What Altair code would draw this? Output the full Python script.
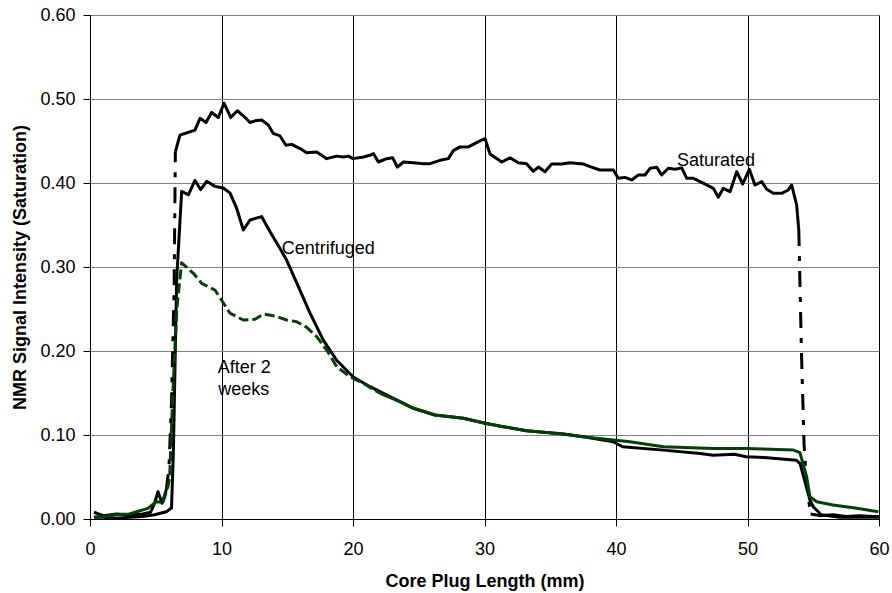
import altair as alt
import pandas as pd

# ---- data ----
sat_x = [0.3, 1.0, 2.0, 3.0, 4.0, 4.6, 4.91, 5.17, 5.48, 5.8, 6.0, 6.2, 6.4, 6.49, 6.84, 7.98, 8.37, 8.82, 9.25, 9.76,
         10.19, 10.70, 11.2, 11.66, 12.17, 12.55, 13.05, 13.56, 13.94, 14.45, 14.9, 15.34, 15.97, 16.48, 17.24, 18.0,
         18.76, 19.26, 19.65, 20.0, 20.8, 21.29, 21.55, 21.93, 22.56, 23.02, 23.37, 23.83, 24.59, 25.35, 25.86, 26.62,
         27.25, 27.63, 28.14, 28.77, 29.4, 30.04, 30.42, 31.31, 31.94, 32.57, 33.2, 33.71, 34.1, 34.6, 35.11, 35.87,
         36.5, 37.51, 38.14, 38.78, 39.8, 40.17, 40.68, 41.19, 41.7, 42.2, 42.59, 43.1, 43.47, 43.98, 44.49, 45.0,
         45.38, 45.88, 46.4, 47.15, 47.4, 47.78, 48.16, 48.67, 49.18, 49.63, 50.14, 50.57, 51.08, 51.46, 51.96, 52.6,
         53.1, 53.36, 53.74, 53.9, 54.1, 54.3, 54.5, 54.8, 55.5, 56.5, 57.5, 58.5, 59.5, 60.0]
sat_y = [0.008, 0.004, 0.006, 0.005, 0.006, 0.008, 0.0187, 0.0325, 0.0187, 0.0345, 0.06, 0.14, 0.28, 0.437, 0.457,
         0.463, 0.477, 0.472, 0.484, 0.478, 0.495, 0.478, 0.486, 0.480, 0.472, 0.474, 0.475, 0.469, 0.459, 0.456,
         0.445, 0.446, 0.441, 0.436, 0.437, 0.429, 0.432, 0.431, 0.432, 0.429, 0.431, 0.433, 0.435, 0.425, 0.429,
         0.430, 0.419, 0.425, 0.424, 0.423, 0.423, 0.427, 0.429, 0.4385, 0.443, 0.443, 0.448, 0.453, 0.4345, 0.425,
         0.430, 0.424, 0.423, 0.414, 0.419, 0.4135, 0.4226, 0.4226, 0.424, 0.4226, 0.419, 0.4155, 0.4155, 0.4056,
         0.4067, 0.4036, 0.4095, 0.4095, 0.4175, 0.4187, 0.4095, 0.4175, 0.4163, 0.418, 0.4056, 0.4056, 0.4016,
         0.3956, 0.3937, 0.383, 0.3937, 0.3897, 0.4135, 0.3988, 0.4163, 0.3976, 0.4016, 0.3925, 0.3877, 0.3877,
         0.3917, 0.3976, 0.3738, 0.344, 0.2, 0.09, 0.04, 0.006, 0.004, 0.005, 0.003, 0.004, 0.003, 0.003]

cen_x = [0.3, 1.0, 2.0, 3.0, 4.0, 4.9, 5.8, 6.2, 6.34, 6.59, 6.97, 7.48, 7.98, 8.42, 8.87, 9.5, 10.14, 10.65, 11.15,
         11.66, 12.17, 13.05, 13.69, 14.45, 14.96, 15.72, 16.73, 17.74, 18.76, 20.02, 21.3, 22.05, 23.57, 24.59,
         26.24, 28.39, 30.04, 31.43, 33.2, 36.0, 37.77, 39.8, 40.5, 43.6, 46.4, 47.4, 49.0, 49.9, 51.5, 53.7, 54.0,
         54.75, 55.0, 55.6, 57.0, 58.5, 60.0]
cen_y = [0.002, 0.002, 0.001, 0.002, 0.003, 0.005, 0.0087, 0.013, 0.08, 0.285, 0.39, 0.386, 0.403, 0.392, 0.402,
         0.396, 0.394, 0.388, 0.370, 0.344, 0.356, 0.360, 0.342, 0.322, 0.308, 0.281, 0.245, 0.213, 0.189, 0.169,
         0.1575, 0.1516, 0.1397, 0.1318, 0.1238, 0.1199, 0.1139, 0.1099, 0.1051, 0.1012, 0.0972, 0.092, 0.086,
         0.082, 0.078, 0.076, 0.077, 0.074, 0.073, 0.070, 0.066, 0.0226, 0.0146, 0.005, 0.002, 0.002, 0.002]

wk_x = [0.3, 1.0, 2.0, 3.0, 4.4, 5.04, 5.55, 5.93, 6.06, 6.3, 6.6, 6.97, 7.86, 8.49, 9.5, 10.0, 10.65, 11.66, 12.55,
        13.18, 14.07, 14.96, 15.72, 16.48, 17.24, 18.0, 18.76, 19.77, 20.78, 22.05, 23.57, 24.59, 26.24, 28.39,
        30.04, 31.43, 33.2, 36.0, 37.77, 39.8, 41.06, 43.6, 47.4, 49.9, 53.5, 53.99, 54.5, 54.75, 55.26, 56.5, 58.3,
        59.95]
wk_y = [0.002, 0.003, 0.005, 0.006, 0.0127, 0.0206, 0.020, 0.0385, 0.05, 0.15, 0.25, 0.305, 0.2925, 0.2806, 0.2726,
        0.2607, 0.2449, 0.2369, 0.2377, 0.244, 0.2417, 0.2369, 0.2349, 0.2282, 0.217, 0.2012, 0.1813, 0.1694,
        0.1615, 0.1496, 0.1397, 0.1318, 0.1238, 0.1199, 0.1139, 0.1099, 0.1051, 0.1012, 0.0972, 0.094, 0.092,
        0.086, 0.084, 0.084, 0.082, 0.079, 0.05, 0.0266, 0.0206, 0.0167, 0.0127, 0.0087]

# line-style breaks (mm) where the drawn style switches between solid and dashed
sat_breaks = [5.8, 6.49, 53.9, 54.8]
wk_breaks = [5.55, 22.05]

label_text = ["Saturated", "Centrifuged", "After 2", "weeks"]
label_x = [44.64, 14.58, 9.71, 9.76]
label_y = [0.4202, 0.3151, 0.1734, 0.1476]

x_ticks = [0, 10, 20, 30, 40, 50, 60]
y_ticks = [0.0, 0.1, 0.2, 0.3, 0.4, 0.5, 0.6]

FONT = "Liberation Sans"


def split(xs, ys, breaks):
    """Split a series into consecutive pieces; odd pieces are dashed."""
    edges = [-1e9] + breaks + [1e9]
    solid, dashed = [], []
    for i in range(len(edges) - 1):
        lo, hi = edges[i], edges[i + 1]
        for x, y in zip(xs, ys):
            if lo <= x <= hi:
                (dashed if i % 2 else solid).append({"x": x, "y": y, "seg": i})
    return pd.DataFrame(solid), pd.DataFrame(dashed)


xs = alt.Scale(domain=[0, 60], nice=False, zero=False)
ys = alt.Scale(domain=[0, 0.6], nice=False)

xax = alt.Axis(values=x_ticks, title="Core Plug Length (mm)", grid=True, gridColor="#000000", gridWidth=1,
               domainColor="#000000", tickColor="#000000", tickSize=7, labelPadding=14, labelFontSize=18,
               labelFont=FONT, labelColor="#000000", labelFlush=False, labelOverlap=False,
               titleFont=FONT, titleFontSize=18, titleFontWeight="bold", titleColor="#000000",
               titleY=67.5, titleBaseline="alphabetic")
yax = alt.Axis(values=y_ticks, format=".2f", title="NMR Signal Intensity (Saturation)", grid=True,
               gridColor="#808080", gridWidth=1, domainColor="#000000", tickColor="#000000", tickSize=7,
               labelPadding=8, labelFontSize=18, labelFont=FONT, labelColor="#000000", labelFlush=False,
               labelOverlap=False, titleFont=FONT, titleFontSize=18, titleFontWeight="bold",
               titleColor="#000000", titleX=-65, titleBaseline="alphabetic")


def lines(df, color, dash=None):
    kw = dict(color=color, strokeWidth=3, clip=True, strokeJoin="round")
    if dash:
        kw["strokeDash"] = dash
        kw["strokeCap"] = "butt"
    return alt.Chart(df).mark_line(**kw).encode(
        x=alt.X("x:Q", scale=xs, axis=xax),
        y=alt.Y("y:Q", scale=ys, axis=yax),
        detail="seg:N",
    )


sat_s, sat_d = split(sat_x, sat_y, sat_breaks)
wk_s, wk_d = split(wk_x, wk_y, wk_breaks)
cen_s, _ = split(cen_x, cen_y, [])

GREEN = "#063f06"

layers = [
    lines(sat_s, "#000000"),
    lines(sat_d, "#000000", [16, 10, 5, 10]),
    lines(cen_s, "#000000"),
    lines(wk_s, GREEN),
    lines(wk_d, GREEN, [10, 4]),
]

labels = pd.DataFrame({"t": label_text, "x": label_x, "y": label_y})
text = alt.Chart(labels).mark_text(align="left", baseline="alphabetic", font=FONT, fontSize=18,
                                   color="#000000").encode(
    x=alt.X("x:Q", scale=xs), y=alt.Y("y:Q", scale=ys), text="t:N")

chart = alt.layer(*layers, text).properties(
    width=789, height=504,
    autosize=alt.AutoSizeParams(type="none"),
    padding={"left": 90, "top": 15, "right": 13, "bottom": 74},
    background="#ffffff",
).configure_view(stroke="#000000", strokeWidth=1)

chart.save("out.html", embed_options={"renderer": "svg", "actions": False})
